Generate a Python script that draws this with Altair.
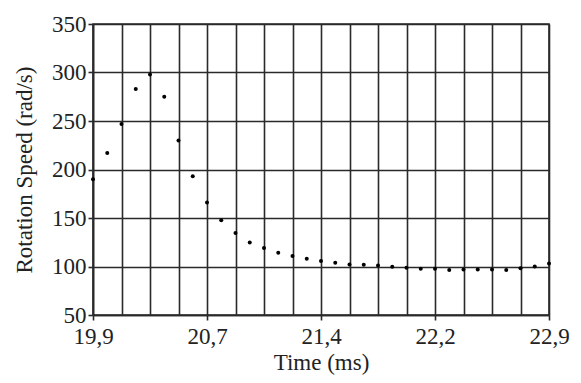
import altair as alt
import pandas as pd

time_ms = [19.9, 19.99375, 20.0875, 20.18125, 20.275, 20.36875, 20.4625, 20.55625,
           20.65, 20.74375, 20.8375, 20.93125, 21.025, 21.11875, 21.2125, 21.30625,
           21.4, 21.49375, 21.5875, 21.68125, 21.775, 21.86875, 21.9625, 22.05625,
           22.15, 22.24375, 22.3375, 22.43125, 22.525, 22.61875, 22.7125, 22.80625, 22.9]
speed = [190, 217, 247, 283, 298, 275, 230, 193,
         166, 147.6, 134.6, 124.8, 119.2, 114.3, 110.8, 108,
         105.6, 103.8, 102.1, 101.7, 101, 99.7, 98.6, 97.6,
         97.6, 96.5, 96.9, 96.9, 96.9, 96.5, 98.3, 100, 103.1]

x_grid = [19.9, 20.0875, 20.275, 20.4625, 20.65, 20.8375, 21.025, 21.2125, 21.4,
          21.5875, 21.775, 21.9625, 22.15, 22.3375, 22.525, 22.7125, 22.9]
x_labels = ["19,9", "20,7", "21,4", "22,2", "22,9"]
y_ticks = [50, 100, 150, 200, 250, 300, 350]

df = pd.DataFrame({"t": time_ms, "w": speed})

FONT = "Liberation Serif"
labeled = "abs((datum.value-19.9)/0.75 - round((datum.value-19.9)/0.75)) < 0.01"
lab_arr = "[" + ",".join("'%s'" % s for s in x_labels) + "]"

chart = alt.Chart(df).mark_circle(size=16, color="black", opacity=1).encode(
    x=alt.X("t:Q", title="Time (ms)",
            scale=alt.Scale(domain=[19.9, 22.9], nice=False, zero=False),
            axis=alt.Axis(values=x_grid, grid=True,
                          labelExpr=f"{labeled} ? {lab_arr}[round((datum.value-19.9)/0.75)] : ''",
                          tickOpacity={"condition": {"test": labeled, "value": 1}, "value": 0},
                          tickSize=5, labelPadding=5, titlePadding=3,
                          labelFlush=False, labelOverlap=False)),
    y=alt.Y("w:Q", title="Rotation Speed (rad/s)",
            scale=alt.Scale(domain=[50, 350], nice=False, zero=False),
            axis=alt.Axis(values=y_ticks, grid=True, tickSize=5, labelPadding=2,
                          titlePadding=15, labelFlush=False)),
).properties(
    width=456, height=291,
    autosize=alt.AutoSizeParams(type="none"),
    padding={"left": 85, "top": 16, "right": 24, "bottom": 60},
).configure_axis(
    gridColor="#2a2a2a", gridWidth=1.6, gridOpacity=1,
    domainColor="#2a2a2a", domainWidth=1.6,
    tickColor="#2a2a2a", tickWidth=1.6,
    labelFont=FONT, labelFontSize=23, labelColor="#222",
    titleFont=FONT, titleFontSize=23, titleColor="#222", titleFontWeight="normal",
).configure_view(stroke="#2a2a2a", strokeWidth=1.6)

chart.save("out.html", embed_options={"renderer": "svg", "actions": False})
